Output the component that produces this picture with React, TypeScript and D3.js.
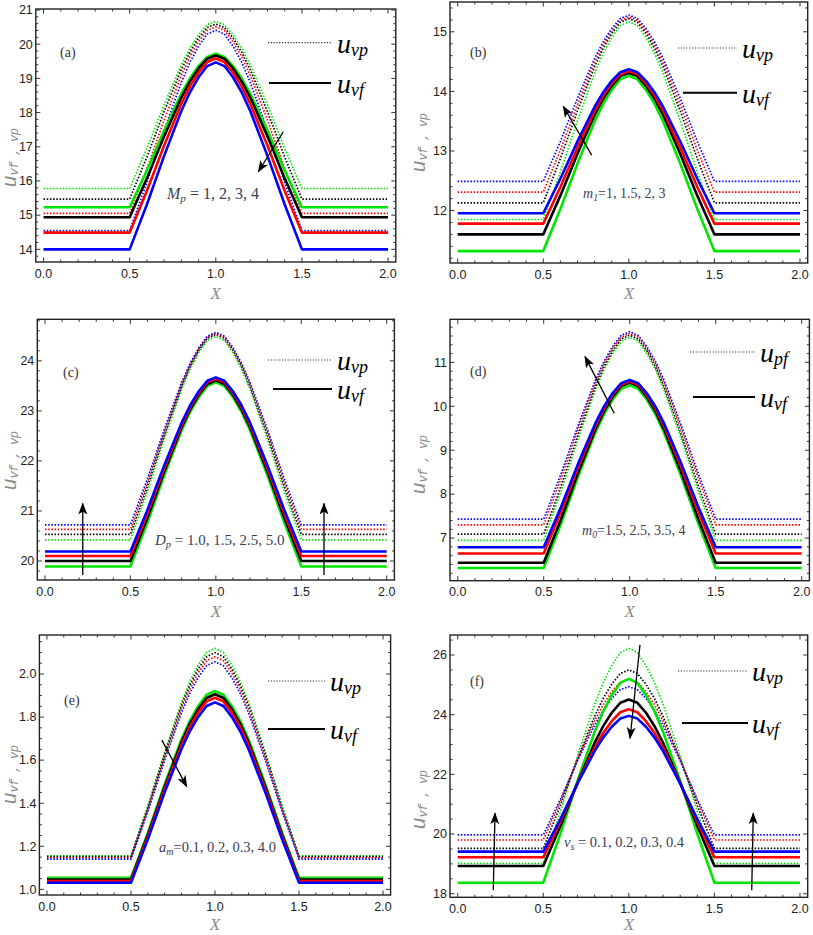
import React from 'react';
import * as d3 from 'd3';

// ---------- shared data ----------
const SERIES_COLORS = ['#00e600', '#000000', '#ff0000', '#0000ff']; // green, black, red, blue
const X_RISE = [0.5, 0.55, 0.6, 0.65, 0.7, 0.75, 0.8, 0.85, 0.9, 0.95, 1.0];
// normalised rise shape (0 at X=0.5, 1 at the peak X=1.0)
const RISE_PROFILE = [0, 0.12, 0.24, 0.37, 0.5, 0.62, 0.74, 0.84, 0.92, 0.98, 1.0];

const X_TICKS = [0, 0.5, 1, 1.5, 2];
const X_TICK_LABELS = ['0.0', '0.5', '1.0', '1.5', '2.0'];

// ---------- panel (a) ----------
const aSolidBase = [15.23, 14.94, 14.49, 14.0];
const aSolidPeak = [19.72, 19.67, 19.58, 19.47];
const aDotBase = [15.78, 15.47, 15.05, 14.55];
const aDotPeak = [20.67, 20.59, 20.51, 20.41];
const aYTicks = [14, 15, 16, 17, 18, 19, 20, 21];
const aYLabels = ['14', '15', '16', '17', '18', '19', '20', '21'];

// ---------- panel (b) ----------
const bSolidBase = [11.32, 11.6, 11.78, 11.955];
const bSolidPeak = [14.26, 14.31, 14.34, 14.37];
const bDotBase = [11.85, 12.13, 12.31, 12.49];
const bDotPeak = [15.17, 15.22, 15.25, 15.28];
const bYTicks = [12, 13, 14, 15];
const bYLabels = ['12', '13', '14', '15'];

// ---------- panel (c) ----------
const cSolidBase = [19.89, 20.0, 20.1, 20.19];
const cSolidPeak = [23.57, 23.61, 23.64, 23.67];
const cDotBase = [20.42, 20.53, 20.63, 20.72];
const cDotPeak = [24.49, 24.53, 24.55, 24.57];
const cYTicks = [20, 21, 22, 23, 24];
const cYLabels = ['20', '21', '22', '23', '24'];

// ---------- panel (d) ----------
const dSolidBase = [6.32, 6.44, 6.65, 6.79];
const dSolidPeak = [10.48, 10.54, 10.57, 10.6];
const dDotBase = [6.95, 7.09, 7.3, 7.43];
const dDotPeak = [11.57, 11.62, 11.66, 11.7];
const dYTicks = [7, 8, 9, 10, 11];
const dYLabels = ['7', '8', '9', '10', '11'];

// ---------- panel (e) ----------
const eSolidBase = [1.054, 1.046, 1.039, 1.031];
const eSolidPeak = [1.921, 1.906, 1.89, 1.868];
const eDotBase = [1.156, 1.152, 1.147, 1.141];
const eDotPeak = [2.119, 2.099, 2.08, 2.057];
const eYTicks = [1.0, 1.2, 1.4, 1.6, 1.8, 2.0];
const eYLabels = ['1.0', '1.2', '1.4', '1.6', '1.8', '2.0'];

// ---------- panel (f) ----------
const fSolidBase = [18.37, 18.93, 19.22, 19.41];
const fSolidPeak = [25.2, 24.51, 24.18, 23.96];
const fDotBase = [19.02, 19.52, 19.8, 19.97];
const fDotPeak = [26.22, 25.5, 25.2, 24.94];
const fYTicks = [18, 20, 22, 24, 26];
const fYLabels = ['18', '20', '22', '24', '26'];

// annotation texts
const PANEL_LABELS = ['(a)', '(b)', '(c)', '(d)', '(e)', '(f)'];
const PARAM_TEXT = [
  { sym: 'M', sub: 'p', rest: ' = 1, 2, 3, 4' },
  { sym: 'm', sub: '1', rest: '=1, 1.5, 2, 3' },
  { sym: 'D', sub: 'p', rest: ' = 1.0, 1.5, 2.5, 5.0' },
  { sym: 'm', sub: '0', rest: '=1.5, 2.5, 3.5, 4' },
  { sym: 'a', sub: 'm', rest: '=0.1, 0.2, 0.3, 4.0' },
  { sym: 'v', sub: 's', rest: ' = 0.1, 0.2, 0.3, 0.4' },
];
const LEGEND_TOP_SUB = ['vp', 'vp', 'vp', 'pf', 'vp', 'vp'];

// arrows in data units [x1, y1, x2(head), y2(head)]
const aArrows = [[1.392, 17.44, 1.247, 16.27]];
const bArrows = [[0.783, 12.93, 0.617, 13.75]];
const cArrows = [[0.221, 19.72, 0.221, 21.15], [1.633, 19.72, 1.633, 21.15]];
const dArrows = [[0.91, 9.84, 0.74, 11.13]];
const eArrows = [[0.684, 1.693, 0.832, 1.477]];
const fArrows = [[1.065, 26.34, 1.007, 23.21], [0.208, 18.12, 0.218, 20.7], [1.718, 18.12, 1.727, 20.7]];

// ---------- layout (pixels) ----------
const LAYOUT = [
  { l: 35.8, t: 9, r: 395.8, b: 262, yDom: [13.63, 21.03], minor: 0.2, xlab: 299,
    leg: { x1: 268, x2: 331, yd: 42.7, xs1: 269, ys: 83, tx: 337 },
    param: { x: 167, y: 199, fs: 16 }, lab: { x: 60, y: 57 }, ylab: { x: 16, y: 158 } },
  { l: 450, t: 2, r: 807.7, b: 263, yDom: [11.12, 15.5], minor: 0.2, xlab: 299,
    leg: { x1: 678, x2: 737, yd: 48, xs1: 683, ys: 92.7, tx: 742 },
    param: { x: 583, y: 198, fs: 14 }, lab: { x: 470, y: 57 }, ylab: { x: 425, y: 143 } },
  { l: 37.3, t: 319.3, r: 394.4, b: 580, yDom: [19.62, 24.83], minor: 0.2, xlab: 617,
    leg: { x1: 268, x2: 332, yd: 360, xs1: 273, ys: 389, tx: 337 },
    param: { x: 155, y: 545, fs: 15 }, lab: { x: 63, y: 377 }, ylab: { x: 16, y: 461 } },
  { l: 450, t: 319.3, r: 809.4, b: 580.7, yDom: [6.03, 11.98], minor: 0.2, xlab: 617,
    leg: { x1: 690, x2: 755, yd: 352, xs1: 693, ys: 397, tx: 760 },
    param: { x: 582, y: 535, fs: 14 }, lab: { x: 470, y: 376 }, ylab: { x: 425, y: 465 } },
  { l: 39.4, t: 635, r: 390.6, b: 895, yDom: [0.974, 2.181], minor: 0.05, xlab: 930,
    leg: { x1: 268, x2: 325, yd: 681, xs1: 268, ys: 729, tx: 330 },
    param: { x: 159, y: 852, fs: 14.5 }, lab: { x: 64, y: 705 }, ylab: { x: 16, y: 775 } },
  { l: 450, t: 635, r: 807.7, b: 897.3, yDom: [17.88, 26.67], minor: 0.5, xlab: 930,
    leg: { x1: 678, x2: 748, yd: 671, xs1: 682, ys: 723, tx: 752 },
    param: { x: 564, y: 847, fs: 14.5 }, lab: { x: 470, y: 686 }, ylab: { x: 425, y: 800 } },
];

const PANEL_DATA = [
  { sb: aSolidBase, sp: aSolidPeak, db: aDotBase, dp: aDotPeak, yt: aYTicks, yl: aYLabels, arrows: aArrows },
  { sb: bSolidBase, sp: bSolidPeak, db: bDotBase, dp: bDotPeak, yt: bYTicks, yl: bYLabels, arrows: bArrows },
  { sb: cSolidBase, sp: cSolidPeak, db: cDotBase, dp: cDotPeak, yt: cYTicks, yl: cYLabels, arrows: cArrows },
  { sb: dSolidBase, sp: dSolidPeak, db: dDotBase, dp: dDotPeak, yt: dYTicks, yl: dYLabels, arrows: dArrows },
  { sb: eSolidBase, sp: eSolidPeak, db: eDotBase, dp: eDotPeak, yt: eYTicks, yl: eYLabels, arrows: eArrows },
  { sb: fSolidBase, sp: fSolidPeak, db: fDotBase, dp: fDotPeak, yt: fYTicks, yl: fYLabels, arrows: fArrows },
];

function curvePoints(base: number, peak: number): [number, number][] {
  const pts: [number, number][] = [[0, base]];
  X_RISE.forEach((x, i) => pts.push([x, base + (peak - base) * RISE_PROFILE[i]]));
  for (let i = X_RISE.length - 2; i >= 0; i--) {
    pts.push([2 - X_RISE[i], base + (peak - base) * RISE_PROFILE[i]]);
  }
  pts.push([2, base]);
  return pts;
}

const SERIF = '"Liberation Serif", "Times New Roman", serif';
const SANS = '"Liberation Sans", Arial, sans-serif';
const MONO = '"Liberation Mono", "DejaVu Sans Mono", monospace';

function Panel({ idx }: { idx: number }) {
  const L = LAYOUT[idx];
  const D = PANEL_DATA[idx];
  const x = d3.scaleLinear().domain([-0.045, 2.045]).range([L.l, L.r]);
  const y = d3.scaleLinear().domain(L.yDom).range([L.b, L.t]);
  const line = d3.line<[number, number]>().x(d => x(d[0])).y(d => y(d[1]));
  const clipId = `clip${idx}`;
  const xMinor = d3.range(0, 2.0001, 0.1);
  const yMinor = d3.range(Math.ceil(L.yDom[0] / L.minor) * L.minor, L.yDom[1], L.minor);
  const P = PARAM_TEXT[idx];
  const tickColor = '#333';
  return (
    <g>
      <defs>
        <clipPath id={clipId}>
          <rect x={L.l} y={L.t} width={L.r - L.l} height={L.b - L.t} />
        </clipPath>
      </defs>
      <g clipPath={`url(#${clipId})`}>
        {D.db.map((b, i) => (
          <path key={'d' + i} d={line(curvePoints(b, D.dp[i])) || ''} fill="none"
            stroke={SERIES_COLORS[i]} strokeWidth={1.7} strokeDasharray="1.5 1.7" />
        ))}
        {D.sb.map((b, i) => (
          <path key={'s' + i} d={line(curvePoints(b, D.sp[i])) || ''} fill="none"
            stroke={SERIES_COLORS[i]} strokeWidth={2.6} strokeLinejoin="round" />
        ))}
      </g>
      {/* frame */}
      <rect x={L.l} y={L.t} width={L.r - L.l} height={L.b - L.t} fill="none" stroke="#222" strokeWidth={1.4} />
      {/* x ticks */}
      {xMinor.map((v, i) => {
        const major = Math.abs(v * 2 - Math.round(v * 2)) < 1e-6;
        const len = major ? 4.5 : 2.5;
        return (
          <g key={'xt' + i}>
            <line x1={x(v)} x2={x(v)} y1={L.b} y2={L.b - len} stroke={tickColor} strokeWidth={1} />
            <line x1={x(v)} x2={x(v)} y1={L.t} y2={L.t + len} stroke={tickColor} strokeWidth={1} />
          </g>
        );
      })}
      {X_TICKS.map((v, i) => (
        <text key={'xl' + i} x={x(v)} y={L.b + 15.5} textAnchor="middle" fontFamily={SANS}
          fontSize={12.5} fill="#222">{X_TICK_LABELS[i]}</text>
      ))}
      {/* y ticks */}
      {yMinor.map((v, i) => {
        const major = D.yt.some(t => Math.abs(t - v) < 1e-6);
        const len = major ? 4.5 : 2.5;
        return (
          <g key={'yt' + i}>
            <line x1={L.l} x2={L.l + len} y1={y(v)} y2={y(v)} stroke={tickColor} strokeWidth={1} />
            <line x1={L.r} x2={L.r - len} y1={y(v)} y2={y(v)} stroke={tickColor} strokeWidth={1} />
          </g>
        );
      })}
      {D.yt.map((v, i) => (
        <text key={'yl' + i} x={L.l - 3} y={y(v) + 4.3} textAnchor="end" fontFamily={SANS}
          fontSize={12.5} fill="#222">{D.yl[i]}</text>
      ))}
      {/* axis labels */}
      <text x={(L.l + L.r) / 2} y={L.xlab} textAnchor="middle" fontFamily={SERIF}
        fontStyle="italic" fontSize={17} fill="#8a8a8a">X</text>
      <text transform={`translate(${L.ylab.x},${L.ylab.y}) rotate(-90)`} textAnchor="middle"
        fontFamily={MONO} fontStyle="italic" fill="#8a8a8a">
        <tspan fontSize={20}>u</tspan>
        <tspan fontSize={12} dy={2} letterSpacing={-0.5}>vf , vp</tspan>
      </text>
      {/* panel label */}
      <text x={L.lab.x} y={L.lab.y} fontFamily={SERIF} fontSize={14} fill="#333">{PANEL_LABELS[idx]}</text>
      {/* legend */}
      <line x1={L.leg.x1} x2={L.leg.x2} y1={L.leg.yd} y2={L.leg.yd} stroke="#333" strokeWidth={1.2}
        strokeDasharray="1.2 1.6" />
      <text x={L.leg.tx} y={L.leg.yd + 10} fontFamily={SERIF} fontStyle="italic" fill="#000">
        <tspan fontSize={28}>u</tspan>
        <tspan fontSize={18} dy={3}>{LEGEND_TOP_SUB[idx]}</tspan>
      </text>
      <line x1={L.leg.xs1} x2={L.leg.x2} y1={L.leg.ys} y2={L.leg.ys} stroke="#000" strokeWidth={2} />
      <text x={L.leg.tx} y={L.leg.ys + 10} fontFamily={SERIF} fontStyle="italic" fill="#000">
        <tspan fontSize={28}>u</tspan>
        <tspan fontSize={18} dy={3}>vf</tspan>
      </text>
      {/* parameter annotation */}
      <text x={L.param.x} y={L.param.y} fontFamily={SERIF} fontSize={L.param.fs} fill="#3c3c55">
        <tspan fontStyle="italic">{P.sym}</tspan>
        <tspan fontStyle="italic" fontSize={L.param.fs * 0.7} dy={3}>{P.sub}</tspan>
        <tspan dy={-3}>{P.rest}</tspan>
      </text>
      {/* arrows */}
      {D.arrows.map((a, i) => (
        <line key={'ar' + i} x1={x(a[0])} y1={y(a[1])} x2={x(a[2])} y2={y(a[3])}
          stroke="#000" strokeWidth={1.3} markerEnd="url(#arrowHead)" />
      ))}
    </g>
  );
}

export default function App() {
  return (
    <svg width={813} height={935} viewBox="0 0 813 935"
      style={{ position: 'absolute', left: 0, top: 0, background: '#fff', display: 'block' }}>
      <defs>
        <marker id="arrowHead" markerUnits="userSpaceOnUse" markerWidth={14} markerHeight={10}
          refX={11} refY={4.5} orient="auto">
          <path d="M0,0 L12,4.5 L0,9 L3,4.5 Z" fill="#000" />
        </marker>
      </defs>
      <rect x={0} y={0} width={813} height={935} fill="#fff" />
      {LAYOUT.map((_, i) => <Panel key={i} idx={i} />)}
    </svg>
  );
}
